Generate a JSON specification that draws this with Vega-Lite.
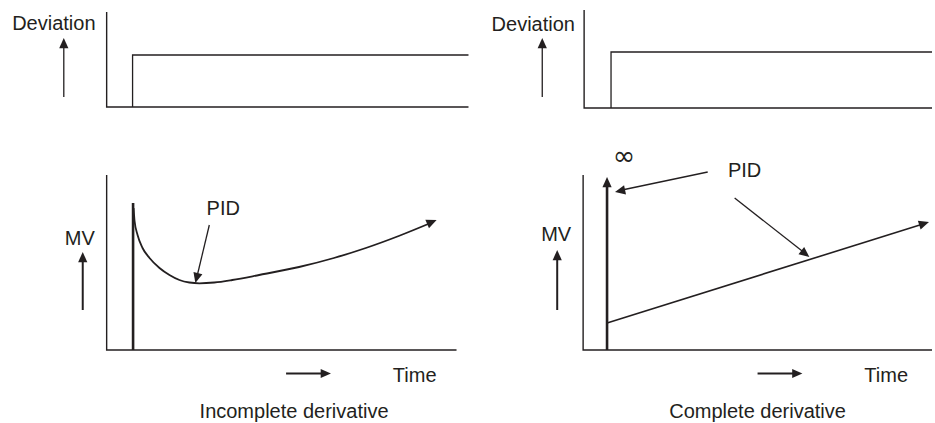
{
  "$schema": "https://vega.github.io/schema/vega-lite/v6.json",
  "width": 935,
  "height": 423,
  "autosize": {"type": "fit", "contains": "padding"},
  "padding": 0,
  "background": "white",
  "config": {"view": {"stroke": null}},
  "datasets": {
    "paths": [
      {"id": "axisLT", "kind": "frame", "ord": 0, "x": 107, "y": 12},
      {"id": "axisLT", "kind": "frame", "ord": 1, "x": 107, "y": 107},
      {"id": "axisLT", "kind": "frame", "ord": 2, "x": 470, "y": 107},
      {"id": "stepLT", "kind": "signal", "ord": 0, "x": 133, "y": 107},
      {"id": "stepLT", "kind": "signal", "ord": 1, "x": 133, "y": 55},
      {"id": "stepLT", "kind": "signal", "ord": 2, "x": 470, "y": 55},
      {"id": "axisRT", "kind": "frame", "ord": 0, "x": 586, "y": 10},
      {"id": "axisRT", "kind": "frame", "ord": 1, "x": 586, "y": 108},
      {"id": "axisRT", "kind": "frame", "ord": 2, "x": 935, "y": 108},
      {"id": "stepRT", "kind": "signal", "ord": 0, "x": 613, "y": 108},
      {"id": "stepRT", "kind": "signal", "ord": 1, "x": 613, "y": 52},
      {"id": "stepRT", "kind": "signal", "ord": 2, "x": 935, "y": 52},
      {"id": "axisLB", "kind": "frame", "ord": 0, "x": 107, "y": 175},
      {"id": "axisLB", "kind": "frame", "ord": 1, "x": 107, "y": 350},
      {"id": "axisLB", "kind": "frame", "ord": 2, "x": 458, "y": 350},
      {"id": "axisRB", "kind": "frame", "ord": 0, "x": 585, "y": 175},
      {"id": "axisRB", "kind": "frame", "ord": 1, "x": 585, "y": 350},
      {"id": "axisRB", "kind": "frame", "ord": 2, "x": 935, "y": 350},
      {"id": "spikeL", "kind": "bold", "ord": 0, "x": 133.5, "y": 350},
      {"id": "spikeL", "kind": "bold", "ord": 1, "x": 133.5, "y": 203},
      {"id": "spikeR", "kind": "bold", "ord": 0, "x": 609, "y": 350},
      {"id": "spikeR", "kind": "bold", "ord": 1, "x": 609, "y": 184},
      {"id": "curveL", "kind": "curve", "ord": 0, "x": 134, "y": 208},
      {"id": "curveL", "kind": "curve", "ord": 1, "x": 135, "y": 221},
      {"id": "curveL", "kind": "curve", "ord": 2, "x": 138, "y": 235},
      {"id": "curveL", "kind": "curve", "ord": 3, "x": 143, "y": 248},
      {"id": "curveL", "kind": "curve", "ord": 4, "x": 150, "y": 258},
      {"id": "curveL", "kind": "curve", "ord": 5, "x": 160, "y": 268},
      {"id": "curveL", "kind": "curve", "ord": 6, "x": 170, "y": 275},
      {"id": "curveL", "kind": "curve", "ord": 7, "x": 180, "y": 280},
      {"id": "curveL", "kind": "curve", "ord": 8, "x": 190, "y": 282.5},
      {"id": "curveL", "kind": "curve", "ord": 9, "x": 200, "y": 283.3},
      {"id": "curveL", "kind": "curve", "ord": 10, "x": 215, "y": 282.5},
      {"id": "curveL", "kind": "curve", "ord": 11, "x": 233, "y": 280},
      {"id": "curveL", "kind": "curve", "ord": 12, "x": 260, "y": 275},
      {"id": "curveL", "kind": "curve", "ord": 13, "x": 300, "y": 267},
      {"id": "curveL", "kind": "curve", "ord": 14, "x": 335, "y": 258},
      {"id": "curveL", "kind": "curve", "ord": 15, "x": 367, "y": 248},
      {"id": "curveL", "kind": "curve", "ord": 16, "x": 400, "y": 236},
      {"id": "curveL", "kind": "curve", "ord": 17, "x": 432, "y": 223},
      {"id": "lineR", "kind": "signal2", "ord": 0, "x": 609, "y": 323},
      {"id": "lineR", "kind": "signal2", "ord": 1, "x": 926, "y": 224},
      {"id": "devL", "kind": "pointer", "ord": 0, "x": 64, "y": 97},
      {"id": "devL", "kind": "pointer", "ord": 1, "x": 64, "y": 44},
      {"id": "devR", "kind": "pointer", "ord": 0, "x": 544, "y": 97},
      {"id": "devR", "kind": "pointer", "ord": 1, "x": 544, "y": 44},
      {"id": "mvL", "kind": "arrow", "ord": 0, "x": 83, "y": 310},
      {"id": "mvL", "kind": "arrow", "ord": 1, "x": 83, "y": 258},
      {"id": "mvR", "kind": "arrow", "ord": 0, "x": 559, "y": 310},
      {"id": "mvR", "kind": "arrow", "ord": 1, "x": 559, "y": 256},
      {"id": "timeL", "kind": "arrow", "ord": 0, "x": 287, "y": 373.5},
      {"id": "timeL", "kind": "arrow", "ord": 1, "x": 326, "y": 373.5},
      {"id": "timeR", "kind": "arrow", "ord": 0, "x": 760, "y": 373.5},
      {"id": "timeR", "kind": "arrow", "ord": 1, "x": 799, "y": 373.5},
      {"id": "pidL", "kind": "pointer", "ord": 0, "x": 210, "y": 225},
      {"id": "pidL", "kind": "pointer", "ord": 1, "x": 198, "y": 275},
      {"id": "pidR1", "kind": "pointer", "ord": 0, "x": 710, "y": 172},
      {"id": "pidR1", "kind": "pointer", "ord": 1, "x": 624, "y": 190},
      {"id": "pidR2", "kind": "pointer", "ord": 0, "x": 737, "y": 198},
      {"id": "pidR2", "kind": "pointer", "ord": 1, "x": 806, "y": 252}
    ],
    "heads": [
      {"id": "devL", "x": 64, "y": 38, "dir": 0},
      {"id": "devR", "x": 544, "y": 38, "dir": 0},
      {"id": "mvL", "x": 83, "y": 252, "dir": 0},
      {"id": "mvR", "x": 559, "y": 250, "dir": 0},
      {"id": "timeL", "x": 332, "y": 373.5, "dir": 90},
      {"id": "timeR", "x": 805, "y": 373.5, "dir": 90},
      {"id": "curveL", "x": 438, "y": 220, "dir": 67},
      {"id": "pidL", "x": 196, "y": 283, "dir": 194.5},
      {"id": "spikeR", "x": 609, "y": 177, "dir": 0},
      {"id": "lineR", "x": 932, "y": 222, "dir": 72.6},
      {"id": "pidR1", "x": 617, "y": 192, "dir": 258},
      {"id": "pidR2", "x": 812, "y": 257, "dir": 128}
    ],
    "labels": [
      {"kind": "label", "x": 54, "y": 30, "text": "Deviation"},
      {"kind": "label", "x": 535, "y": 31, "text": "Deviation"},
      {"kind": "label", "x": 80, "y": 245, "text": "MV"},
      {"kind": "label", "x": 558, "y": 241, "text": "MV"},
      {"kind": "label", "x": 224, "y": 215, "text": "PID"},
      {"kind": "label", "x": 747, "y": 177, "text": "PID"},
      {"kind": "label", "x": 416, "y": 382, "text": "Time"},
      {"kind": "label", "x": 889, "y": 382, "text": "Time"},
      {"kind": "label", "x": 295, "y": 418, "text": "Incomplete derivative"},
      {"kind": "label", "x": 760, "y": 418, "text": "Complete derivative"},
      {"kind": "symbol", "x": 626, "y": 157, "text": "∞"}
    ]
  },
  "encoding": {
    "x": {"field": "x", "type": "quantitative", "scale": {"domain": [0, 935], "nice": false, "zero": false}, "axis": null},
    "y": {"field": "y", "type": "quantitative", "scale": {"domain": [0, 423], "reverse": true, "nice": false, "zero": false}, "axis": null}
  },
  "layer": [
    {
      "data": {"name": "paths"},
      "transform": [{"filter": "datum.kind === 'frame'"}],
      "mark": {"type": "line", "color": "#231f20", "strokeWidth": 1.4},
      "encoding": {"detail": {"field": "id"}, "order": {"field": "ord"}}
    },
    {
      "data": {"name": "paths"},
      "transform": [{"filter": "datum.kind === 'signal'"}],
      "mark": {"type": "line", "color": "#231f20", "strokeWidth": 1.3},
      "encoding": {"detail": {"field": "id"}, "order": {"field": "ord"}}
    },
    {
      "data": {"name": "paths"},
      "transform": [{"filter": "datum.kind === 'signal2'"}],
      "mark": {"type": "line", "color": "#231f20", "strokeWidth": 1.6},
      "encoding": {"detail": {"field": "id"}, "order": {"field": "ord"}}
    },
    {
      "data": {"name": "paths"},
      "transform": [{"filter": "datum.kind === 'curve'"}],
      "mark": {"type": "line", "color": "#231f20", "strokeWidth": 1.8, "interpolate": "monotone"},
      "encoding": {"detail": {"field": "id"}, "order": {"field": "ord"}}
    },
    {
      "data": {"name": "paths"},
      "transform": [{"filter": "datum.kind === 'bold'"}],
      "mark": {"type": "line", "color": "#231f20", "strokeWidth": 2.6},
      "encoding": {"detail": {"field": "id"}, "order": {"field": "ord"}}
    },
    {
      "data": {"name": "paths"},
      "transform": [{"filter": "datum.kind === 'pointer'"}],
      "mark": {"type": "line", "color": "#231f20", "strokeWidth": 1.3},
      "encoding": {"detail": {"field": "id"}, "order": {"field": "ord"}}
    },
    {
      "data": {"name": "paths"},
      "transform": [{"filter": "datum.kind === 'arrow'"}],
      "mark": {"type": "line", "color": "#231f20", "strokeWidth": 2},
      "encoding": {"detail": {"field": "id"}, "order": {"field": "ord"}}
    },
    {
      "data": {"name": "heads"},
      "mark": {"type": "point", "shape": "M0,0L-0.45,1L0.45,1Z", "filled": true, "color": "#231f20", "opacity": 1, "size": 420, "strokeWidth": 0},
      "encoding": {"angle": {"field": "dir", "type": "quantitative", "scale": null}}
    },
    {
      "data": {"name": "labels"},
      "transform": [{"filter": "datum.kind === 'label'"}],
      "mark": {"type": "text", "font": "Liberation Sans", "fontSize": 20, "align": "center", "baseline": "alphabetic", "color": "#231f20"},
      "encoding": {"text": {"field": "text"}}
    },
    {
      "data": {"name": "labels"},
      "transform": [{"filter": "datum.kind === 'symbol'"}],
      "mark": {"type": "text", "font": "DejaVu Sans", "fontSize": 27, "align": "center", "baseline": "middle", "color": "#231f20"},
      "encoding": {"text": {"field": "text"}}
    }
  ]
}
